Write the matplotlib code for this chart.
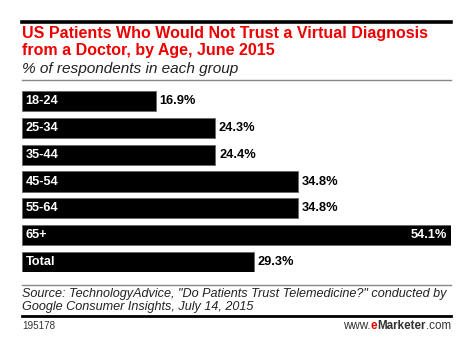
import matplotlib
matplotlib.use('Agg')
import matplotlib.pyplot as plt
from matplotlib.lines import Line2D

plt.rcParams['font.family'] = ['Liberation Sans', 'DejaVu Sans']

# data
categories = ['18-24', '25-34', '35-44', '45-54', '55-64', '65+', 'Total']
values = [16.9, 24.3, 24.4, 34.8, 34.8, 54.1, 29.3]

W, H = 471, 345
fig = plt.figure(figsize=(W / 100, H / 100), dpi=100)
fig.patch.set_facecolor('white')


def fx(px):
    return px / W


def fy(py):
    return 1 - py / H


def hline(y, x0, x1, color, lw):
    fig.add_artist(Line2D([fx(x0), fx(x1)], [fy(y), fy(y)], color=color, lw=lw,
                          transform=fig.transFigure))


# header
hline(21.5, 22, 451, 'black', 2.6)
fig.text(fx(22), fy(33.5), 'US Patients Who Would Not Trust a Virtual Diagnosis',
         color='#ee0000', fontsize=11.5, fontweight='bold', va='center', ha='left')
fig.text(fx(22), fy(50.5), 'from a Doctor, by Age, June 2015',
         color='#ee0000', fontsize=11.5, fontweight='bold', va='center', ha='left')
fig.text(fx(22), fy(69), '% of respondents in each group',
         color='#222222', fontsize=11.1, style='italic', va='center', ha='left')
hline(80, 22, 451, '#888888', 1.0)

# bars
top, bottom = 91, 272
ax = fig.add_axes([fx(22), fy(bottom), fx(451 - 22), (bottom - top) / H])
ypos = list(range(len(categories)))
ax.barh(ypos, values, height=0.75, color='black', edgecolor='#666666', linewidth=0.6)
ax.set_xlim(0, max(values))
ax.set_ylim(len(categories) - 0.625, -0.375)
ax.axis('off')

for y, cat, v in zip(ypos, categories, values):
    ax.text(0.45, y, cat, color='white', fontsize=9.2, fontweight='bold',
            va='center', ha='left')
    if v == max(values):
        ax.text(v - 0.5, y, f'{v:.1f}%', color='white', fontsize=9.2,
                fontweight='bold', va='center', ha='right')
    else:
        ax.text(v + 0.45, y, f'{v:.1f}%', color='black', fontsize=9.2,
                fontweight='bold', va='center', ha='left')

# footer
hline(284.5, 22, 451, '#888888', 1.0)
fig.text(fx(22), fy(294), 'Source: TechnologyAdvice, "Do Patients Trust Telemedicine?" conducted by',
         color='#222222', fontsize=9.1, style='italic', va='center', ha='left')
fig.text(fx(22), fy(307), 'Google Consumer Insights, July 14, 2015',
         color='#222222', fontsize=9.1, style='italic', va='center', ha='left')
hline(315.5, 22, 451, 'black', 2.0)
fig.text(fx(22), fy(326), '195178', color='#333333', fontsize=7.1, va='center', ha='left')

t = fig.text(fx(451), fy(326), '.com', color='#333333', fontsize=8.4, va='center', ha='right')
fig.canvas.draw()
r = fig.canvas.get_renderer()
bb = t.get_window_extent(r)
t2 = fig.text(bb.x0 / W, fy(326), 'Marketer', color='#333333', fontsize=8.4,
              fontweight='bold', va='center', ha='right')
bb2 = t2.get_window_extent(r)
t3 = fig.text(bb2.x0 / W, fy(326), 'e', color='#ee0000', fontsize=8.4,
              fontweight='bold', va='center', ha='right')
bb3 = t3.get_window_extent(r)
fig.text(bb3.x0 / W, fy(326), 'www.', color='#333333', fontsize=8.4, va='center', ha='right')

fig.savefig('out.png', dpi=100, facecolor='white')
